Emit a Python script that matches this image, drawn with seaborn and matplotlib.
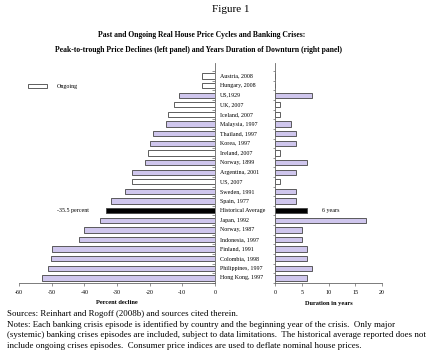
import matplotlib
matplotlib.use("Agg")
import matplotlib.pyplot as plt
import matplotlib.transforms as mtransforms
from matplotlib.patches import Patch
import seaborn as sns
import numpy as np

episodes = ["Austria, 2008", "Hungary, 2008", "US,1929", "UK, 2007", "Iceland, 2007",
            "Malaysia, 1997", "Thailand, 1997", "Korea, 1997", "Ireland, 2007",
            "Norway, 1899", "Argentina, 2001", "US, 2007", "Sweden, 1991", "Spain, 1977",
            "Historical Average", "Japan, 1992", "Norway, 1987", "Indonesia, 1997",
            "Finland, 1991", "Colombia, 1998", "Philippines, 1997", "Hong Kong, 1997"]
price_decline = [-4, -4, -11, -12.5, -14.3, -15, -19, -20, -20.4, -21.4, -25.3, -25.5,
                 -27.7, -31.8, -33.3, -35.3, -40.1, -41.5, -50, -50.3, -51.1, -53]
duration_years = [0, 0, 7, 1, 1, 3, 4, 4, 1, 6, 4, 1, 4, 4, 6, 17, 5, 5, 6, 6, 7, 6]
ongoing = ["Austria, 2008", "Hungary, 2008", "UK, 2007", "Iceland, 2007",
           "Ireland, 2007", "US, 2007"]
average_label = "Historical Average"
left_ticks = [-60, -50, -40, -30, -20, -10, 0]
right_ticks = [0, 5, 10, 15, 20]

PURPLE = "#cbbff4"
EDGE = "#444444"
palette = {}
for e in episodes:
    if e == average_label:
        palette[e] = "black"
    elif e in ongoing:
        palette[e] = "white"
    else:
        palette[e] = PURPLE

plt.rcParams["font.family"] = ["Liberation Serif", "DejaVu Serif"]

fig = plt.figure(figsize=(4.34, 3.56), dpi=100)
W, H = 434, 356
top_px, bot_px = 63, 283
axL = fig.add_axes([19 / W, 1 - bot_px / H, 196 / W, (bot_px - top_px) / H])
axR = fig.add_axes([275 / W, 1 - bot_px / H, 107 / W, (bot_px - top_px) / H])

sns.barplot(x=price_decline, y=episodes, hue=episodes, palette=palette, orient="h",
            width=0.55, edgecolor=EDGE, linewidth=0.6, legend=False, ax=axL)
sns.barplot(x=duration_years, y=episodes, hue=episodes, palette=palette, orient="h",
            width=0.55, edgecolor=EDGE, linewidth=0.6, legend=False, ax=axR)

n = len(episodes)
bounds = np.arange(-0.5, n, 1.0)
for ax in (axL, axR):
    ax.set_ylim(n - 0.48, -1.35)
    ax.set_ylabel("")
    ax.spines["top"].set_visible(False)
    ax.set_yticks(bounds)
    ax.set_yticklabels([])
    for s in ax.spines.values():
        s.set_color("#666666")
        s.set_linewidth(0.6)

axL.spines["left"].set_visible(False)
axL.yaxis.tick_right()
axL.tick_params(axis="y", direction="in", length=2, width=0.5, color="#666666")
axL.set_xlim(-60, 0)
axL.set_xticks(left_ticks)
axL.set_xticklabels([str(t) for t in left_ticks])
axL.tick_params(axis="x", length=2, width=0.5, labelsize=4.3, pad=3, color="#666666")
axL.set_xlabel("Percent decline", fontsize=4.6, fontweight="bold", labelpad=4)

axR.spines["right"].set_visible(False)
axR.tick_params(axis="y", direction="out", length=1.5, width=0.5, color="#666666")
axR.set_xlim(0, 20)
axR.set_xticks(right_ticks)
axR.set_xticklabels([str(t) for t in right_ticks])
axR.tick_params(axis="x", length=2, width=0.5, labelsize=4.3, pad=3, color="#666666")
axR.set_xlabel("Duration in years", fontsize=4.6, fontweight="bold", labelpad=4)

# episode labels between the panels
trans = mtransforms.blended_transform_factory(fig.transFigure, axR.transData)
for i, e in enumerate(episodes):
    axR.text(220 / W, i, e, transform=trans, ha="left", va="center", fontsize=4.3)

avg_idx = episodes.index(average_label)
axL.text(-43.5, avg_idx, "-35.5 percent", ha="center", va="center", fontsize=4.3)
axR.text(10.4, avg_idx, "6 years", ha="center", va="center", fontsize=4.3)

# legend
axL.legend(handles=[Patch(facecolor="white", edgecolor=EDGE, linewidth=0.6, label="Ongoing")],
           loc="upper left", bbox_to_anchor=(0.02, 0.93), frameon=False,
           fontsize=4.3, handlelength=3.2, handleheight=0.8, handletextpad=1.5)

fig.text(0.532, 0.972, "Figure 1", ha="center", va="center", fontsize=8)
fig.text(0.465, 0.902, "Past and Ongoing Real House Price Cycles and Banking Crises:",
         ha="center", va="center", fontsize=5.5, fontweight="bold")
fig.text(0.458, 0.86, "Peak-to-trough Price Declines (left panel) and Years Duration of Downturn (right panel)",
         ha="center", va="center", fontsize=5.5, fontweight="bold")

foot = ("Sources: Reinhart and Rogoff (2008b) and sources cited therein.\n"
        "Notes: Each banking crisis episode is identified by country and the beginning year of the crisis.  Only major\n"
        "(systemic) banking crises episodes are included, subject to data limitations.  The historical average reported does not\n"
        "include ongoing crises episodes.  Consumer price indices are used to deflate nominal house prices.")
fig.text(7 / W, 1 - 310 / H, foot, ha="left", va="top", fontsize=6.4, linespacing=1.42)

fig.savefig("out.png", dpi=100)
